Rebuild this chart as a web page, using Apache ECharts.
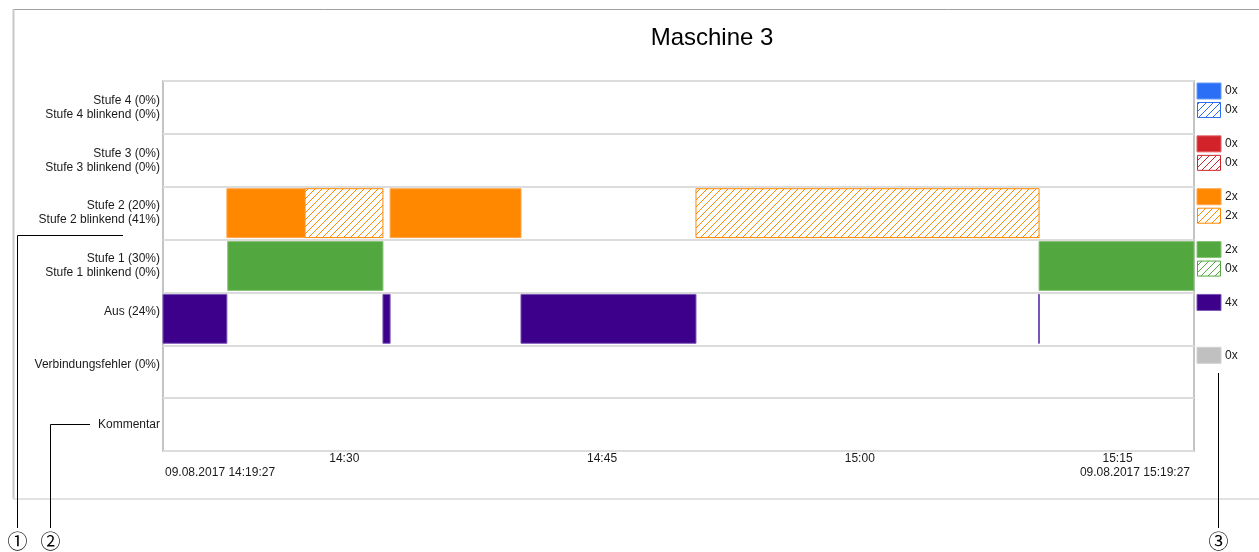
<!DOCTYPE html>
<html>
<head>
<meta charset="utf-8">
<title>Maschine 3</title>
<script src="https://cdn.jsdelivr.net/npm/echarts@6.0.0/dist/echarts.min.js"></script>
<style>
html, body { margin: 0; padding: 0; background: #fff; }
#chart { width: 1259px; height: 552px; }
</style>
</head>
<body>
<div id="chart"></div>
<script>
const chartTitle = 'Maschine 3';
const datum = '09.08.2017';
const startTime = '14:19:27';
const endTime = '15:19:27';
const tickTimes = ['14:30', '14:45', '15:00', '15:15'];

// Zeilen von oben nach unten
const rowLabels = [
  'Stufe 4 (0%)\nStufe 4 blinkend (0%)',
  'Stufe 3 (0%)\nStufe 3 blinkend (0%)',
  'Stufe 2 (20%)\nStufe 2 blinkend (41%)',
  'Stufe 1 (30%)\nStufe 1 blinkend (0%)',
  'Aus (24%)\n ',
  'Verbindungsfehler (0%)\n ',
  'Kommentar',
];
const rowColors = ['#2b6ff6', '#d2232a', '#ff8800', '#52a83f', '#3d008a', '#c0c0c0', null];
const rowEdges = ['#6a9cf8', '#e06066', '#ffa64d', '#86c276', '#7a55b8', '#d0d0d0', null];
const countSolid = [0, 0, 2, 2, 4, 0, null];
const countBlink = [0, 0, 2, 0, null, null, null];

// Zeitabschnitte [von, bis]
const stufe2Solid = [['14:23:10', '14:27:43'], ['14:32:40', '14:40:17']];
const stufe2Blink = [['14:27:43', '14:32:15'], ['14:50:28', '15:10:26']];
const stufe1Solid = [['14:23:13', '14:32:15'], ['15:10:26', '15:19:27']];
const ausSolid = [['14:19:27', '14:23:10'], ['14:32:15', '14:32:40'], ['14:40:17', '14:50:28'], ['15:10:24', '15:10:27']];

const FONT = '"Liberation Sans", Arial, sans-serif';

function sec(t) {
  const p = t.split(':').map(Number);
  return p[0] * 3600 + p[1] * 60 + (p[2] || 0);
}
function pad(n) {
  return n < 10 ? `0${n}` : `${n}`;
}
function hhmm(v) {
  return `${Math.floor(v / 3600)}:${pad(Math.floor((v % 3600) / 60))}`;
}
function hhmmss(v) {
  return `${hhmm(v)}:${pad(Math.round(v % 60))}`;
}

// Schraffur als Muster
function hatch(color) {
  const n = 7;
  const c = document.createElement('canvas');
  c.width = n;
  c.height = n;
  const g = c.getContext('2d');
  g.fillStyle = '#fff';
  g.fillRect(0, 0, n, n);
  g.strokeStyle = color;
  g.lineWidth = 1;
  g.beginPath();
  g.moveTo(-1, n + 1); g.lineTo(n + 1, -1);
  g.moveTo(-1, 1); g.lineTo(1, -1);
  g.moveTo(n - 1, n + 1); g.lineTo(n + 1, n - 1);
  g.stroke();
  return { image: c, repeat: 'repeat' };
}
const hatchFills = rowColors.map((c) => (c ? hatch(c) : null));

const bars = [];
function addBars(list, row, blink) {
  list.forEach((s) => bars.push([sec(s[0]), sec(s[1]), row, blink]));
}
addBars(stufe2Solid, 2, 0);
addBars(stufe2Blink, 2, 1);
addBars(stufe1Solid, 3, 0);
addBars(ausSolid, 4, 0);

const legendRows = [];
rowColors.forEach((c, i) => {
  if (c) legendRows.push([0, i]);
});

const xMin = sec(startTime);
const xMax = sec(endTime);

const chart = echarts.init(document.getElementById('chart'));

const option = {
  animation: false,
  title: {
    text: chartTitle,
    left: 707,
    textAlign: 'center',
    top: 21,
    textStyle: { fontSize: 24, fontWeight: 'normal', color: '#000', fontFamily: FONT },
  },
  grid: [
    {
      left: 163, top: 81, width: 1031, height: 370,
      show: true, borderColor: '#c4c4c4', borderWidth: 2, backgroundColor: '#fff',
    },
    { left: 1197, top: 81, width: 50, height: 370 },
  ],
  xAxis: [
    {
      type: 'value', gridIndex: 0, min: xMin, max: xMax,
      axisLine: { show: false }, axisTick: { show: false }, splitLine: { show: false },
      axisLabel: {
        customValues: tickTimes.map(sec),
        formatter: (v) => hhmm(v),
        margin: 2, fontSize: 12, color: '#1a1a1a', fontFamily: FONT,
      },
    },
    {
      type: 'value', gridIndex: 0, min: xMin, max: xMax, position: 'bottom',
      axisLine: { show: false }, axisTick: { show: false }, splitLine: { show: false },
      axisLabel: {
        customValues: [xMin, xMax],
        formatter: (v) => `${datum} ${hhmmss(v)}`,
        alignMinLabel: 'left', alignMaxLabel: 'right',
        padding: [0, 4, 0, 2],
        margin: 16, fontSize: 12, color: '#1a1a1a', fontFamily: FONT,
      },
    },
    { type: 'value', gridIndex: 1, min: 0, max: 1, show: false },
  ],
  yAxis: [
    {
      type: 'category', gridIndex: 0, inverse: true, data: rowLabels,
      axisLine: { show: false }, axisTick: { show: false },
      axisLabel: {
        margin: 3, fontSize: 12, lineHeight: 14, color: '#1a1a1a', fontFamily: FONT,
      },
      splitLine: { show: true, interval: 0, lineStyle: { color: '#dcdcdc', width: 2 } },
    },
    {
      type: 'category', gridIndex: 1, inverse: true, data: rowLabels, show: false,
    },
  ],
  series: [
    {
      type: 'custom',
      xAxisIndex: 0,
      yAxisIndex: 0,
      data: bars,
      encode: { x: [0, 1], y: 2 },
      renderItem(params, api) {
        const row = api.value(2);
        const blink = api.value(3);
        const p0 = api.coord([api.value(0), row]);
        const p1 = api.coord([api.value(1), row]);
        const h = api.size([0, 1])[1];
        const shape = echarts.graphic.clipRectByRect({
          x: p0[0],
          y: p0[1] - h / 2 + 2,
          width: Math.max(p1[0] - p0[0], 1),
          height: h - 4,
        }, {
          x: params.coordSys.x,
          y: params.coordSys.y,
          width: params.coordSys.width,
          height: params.coordSys.height,
        });
        if (!shape) return null;
        return {
          type: 'rect',
          shape,
          style: blink
            ? { fill: hatchFills[row], stroke: rowColors[row], lineWidth: 1 }
            : { fill: rowColors[row], stroke: rowEdges[row], lineWidth: 1 },
        };
      },
    },
    {
      type: 'custom',
      xAxisIndex: 2,
      yAxisIndex: 1,
      data: legendRows,
      encode: { x: 0, y: 1 },
      renderItem(params, api) {
        const row = api.value(1);
        const c = api.coord([0, row]);
        const h = api.size([0, 1])[1];
        const top = c[1] - h / 2 + 2;
        const children = [
          {
            type: 'rect',
            shape: { x: c[0], y: top, width: 24, height: 16 },
            style: { fill: rowColors[row], stroke: rowEdges[row], lineWidth: 1 },
          },
          {
            type: 'text',
            style: {
              x: c[0] + 28, y: top + 8, text: `${countSolid[row]}x`,
              fill: '#1a1a1a', font: `12px ${FONT}`, verticalAlign: 'middle',
            },
          },
        ];
        if (countBlink[row] !== null) {
          children.push({
            type: 'rect',
            shape: { x: c[0] + 0.5, y: top + 19.5, width: 23, height: 15 },
            style: { fill: hatchFills[row], stroke: rowColors[row], lineWidth: 1 },
          }, {
            type: 'text',
            style: {
              x: c[0] + 28, y: top + 27, text: `${countBlink[row]}x`,
              fill: '#1a1a1a', font: `12px ${FONT}`, verticalAlign: 'middle',
            },
          });
        }
        return { type: 'group', children };
      },
    },
  ],
  graphic: [
    // Rahmen
    { type: 'line', shape: { x1: 13, y1: 9.5, x2: 1259, y2: 9.5 }, style: { stroke: '#a0a0a0', lineWidth: 1 }, z: 0 },
    { type: 'line', shape: { x1: 13.5, y1: 9, x2: 13.5, y2: 499 }, style: { stroke: '#c8c8c8', lineWidth: 2 }, z: 0 },
    { type: 'line', shape: { x1: 13, y1: 499, x2: 1259, y2: 499 }, style: { stroke: '#e2e2e2', lineWidth: 2 }, z: 0 },
    // Markierungen
    { type: 'polyline', shape: { points: [[123, 235.5], [17.5, 235.5], [17.5, 528]] }, style: { stroke: '#000', fill: null, lineWidth: 1 }, z: 10 },
    { type: 'polyline', shape: { points: [[90, 424.5], [50.5, 424.5], [50.5, 528]] }, style: { stroke: '#000', fill: null, lineWidth: 1 }, z: 10 },
    { type: 'line', shape: { x1: 1218.5, y1: 373, x2: 1218.5, y2: 528 }, style: { stroke: '#000', lineWidth: 1 }, z: 10 },
    { type: 'text', x: 17.5, y: 541, style: { text: '①', font: '20px "Noto Sans CJK JP", "DejaVu Sans"', fill: '#000', align: 'center', verticalAlign: 'middle' }, z: 10 },
    { type: 'text', x: 50.5, y: 541, style: { text: '②', font: '20px "Noto Sans CJK JP", "DejaVu Sans"', fill: '#000', align: 'center', verticalAlign: 'middle' }, z: 10 },
    { type: 'text', x: 1218.5, y: 541, style: { text: '③', font: '20px "Noto Sans CJK JP", "DejaVu Sans"', fill: '#000', align: 'center', verticalAlign: 'middle' }, z: 10 },
  ],
};

chart.setOption(option);
</script>
</body>
</html>
